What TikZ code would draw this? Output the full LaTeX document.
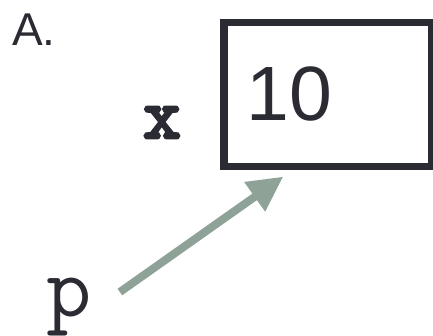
\documentclass[tikz,border=0pt]{standalone}
\usepackage{fontspec}
\newfontfamily\arialfont{Liberation Sans}
\newfontfamily\monobold{lmmono10-regular.otf}[FakeBold=4]
\usepackage{tikz}
\usetikzlibrary{arrows.meta}
\definecolor{BoxInk}{HTML}{2A2B33}
\definecolor{PtrGreen}{HTML}{8FA297}

\begin{document}
\begin{tikzpicture}[x=1pt, y=1pt,
  varbox/.style={draw=BoxInk, line width=7.5pt, minimum height=144pt, text width=163pt,
    inner xsep=22.5pt, inner ysep=0pt, align=left, text=BoxInk,
    font=\arialfont\fontsize{77}{80}\selectfont},
  varname/.style={inner sep=0pt, text=BoxInk, anchor=base},
  ptrarrow/.style={PtrGreen, line width=8pt, -{Triangle[length=35pt, width=34pt]}}]
  \useasboundingbox (0,0) rectangle (433,336);

  % Panel label
  \node[varname, anchor=base west, font=\arialfont\fontsize{46}{48}\selectfont] (panel) at (12,290) {A.};

  % Variable x and its box
  \node[varbox] (xbox) at (328,241.6) {10};
  \node[varname, font=\monobold\fontsize{72}{74}\selectfont] (xname) at (162,198) {x};

  % Pointer p
  \node[varname, font=\ttfamily\fontsize{88}{90}\selectfont] (pname) at (69,19) {p};
  \draw[ptrarrow] ([shift={(28pt,15.5pt)}]pname.east) -- ([shift={(63pt,-6.5pt)}]xbox.south west);
\end{tikzpicture}
\end{document}
